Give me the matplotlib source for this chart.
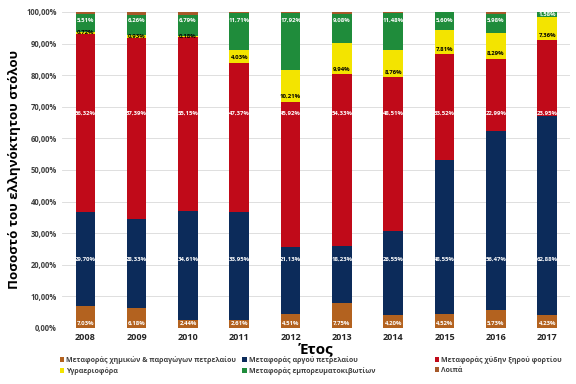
import matplotlib
matplotlib.use("Agg")
import matplotlib.pyplot as plt
from matplotlib.patches import Patch
import numpy as np

plt.rcParams['font.family'] = ['Open Sans', 'DejaVu Sans']

years = ["2008", "2009", "2010", "2011", "2012", "2013", "2014", "2015", "2016", "2017"]
chemicals = [7.03, 6.18, 2.44, 2.61, 4.51, 7.75, 4.20, 4.52, 5.73, 4.23]
crude = [29.70, 28.33, 34.61, 33.95, 21.13, 18.23, 26.55, 48.55, 56.47, 62.88]
bulk = [56.32, 57.39, 55.15, 47.37, 45.92, 54.33, 48.51, 33.52, 22.99, 23.95]
lpg = [0.72, 0.93, 0.18, 4.03, 10.21, 9.94, 8.76, 7.81, 8.29, 7.36]
containers = [5.51, 6.26, 6.79, 11.71, 17.92, 9.08, 11.48, 5.60, 5.98, 1.58]
others = [0.72, 0.91, 0.83, 0.33, 0.31, 0.67, 0.50, 0.00, 0.54, 0.00]

names = ["Μεταφοράς χημικών & παραγώγων πετρελαίου", "Μεταφοράς αργού πετρελαίου",
         "Μεταφοράς χύδην ξηρού φορτίου", "Υγραεριοφόρα",
         "Μεταφοράς εμπορευματοκιβωτίων", "Λοιπά"]
colors = ["#B3621F", "#0C2B5A", "#C00A19", "#F3E400", "#1F8C3B", "#A6592A"]
series = [chemicals, crude, bulk, lpg, containers, others]

fig = plt.figure(figsize=(5.76, 3.84), dpi=100)
ax = fig.add_axes([0.108, 0.146, 0.882, 0.823])

x = np.arange(len(years))
w = 0.38
bottom = np.zeros(len(years))
bottoms = []
for vals, c in zip(series, colors):
    vals = np.array(vals)
    bottoms.append(bottom.copy())
    ax.bar(x, vals, w, bottom=bottom, color=c, zorder=3)
    bottom = bottom + vals

def fmt(v):
    return f"{v:.2f}%".replace(".", ",")

lab_kw = dict(ha='center', va='center', fontsize=4.3, fontweight='bold', zorder=5)
for i in range(len(years)):
    ax.text(x[i], 1.3, fmt(chemicals[i]), color='white', **lab_kw)
    ax.text(x[i], 21.6, fmt(crude[i]), color='white', **lab_kw)
    ax.text(x[i], 68.0, fmt(bulk[i]), color='white', **lab_kw)
    b = bottoms[3][i]
    yl = b + lpg[i] / 2 if lpg[i] < 3 else b + 1.6
    ax.text(x[i], yl, fmt(lpg[i]), color='black', **lab_kw)
    gb = bottoms[4][i]
    yg = 97.3 if containers[i] > 4 else gb + containers[i] / 2
    ax.text(x[i], yg, fmt(containers[i]), color='white', **lab_kw)

ax.set_ylim(0, 100)
ax.set_xlim(-0.45, len(years) - 0.55)
ax.set_yticks(np.arange(0, 101, 10))
ax.set_yticklabels([fmt(v) for v in np.arange(0, 101, 10)], fontsize=5.5, fontweight='bold', color='#404040')
ax.set_xticks(x)
ax.set_xticklabels(years, fontsize=6.5, fontweight='bold', color='#262626')
ax.tick_params(length=0, pad=4)
ax.yaxis.grid(True, color='#D9D9D9', linewidth=0.6, zorder=0)
ax.set_axisbelow(True)
for s in ax.spines.values():
    s.set_visible(False)

ax.set_ylabel("Ποσοστό του ελληνόκτητου στόλου", fontsize=9.5, fontweight='bold', color='black', labelpad=4)
ax.set_xlabel("Έτος", fontsize=11, fontweight='bold', color='black', labelpad=0)

handles = [Patch(facecolor=c, label=n) for c, n in zip(colors, names)]
col_x = [0.104, 0.421, 0.755]
for j, cx in enumerate(col_x):
    idx = [j, j + 3]
    leg = fig.legend([handles[k] for k in idx], [names[k] for k in idx], ncol=1,
                     loc='upper left', bbox_to_anchor=(cx, 0.073), frameon=False,
                     prop={'size': 5.0, 'weight': 'bold'},
                     handlelength=0.6, handleheight=0.6,
                     handletextpad=0.3, labelspacing=0.45, borderaxespad=0, borderpad=0)
    for t in leg.get_texts():
        t.set_color('#404040')

fig.savefig("out.png", dpi=100)
